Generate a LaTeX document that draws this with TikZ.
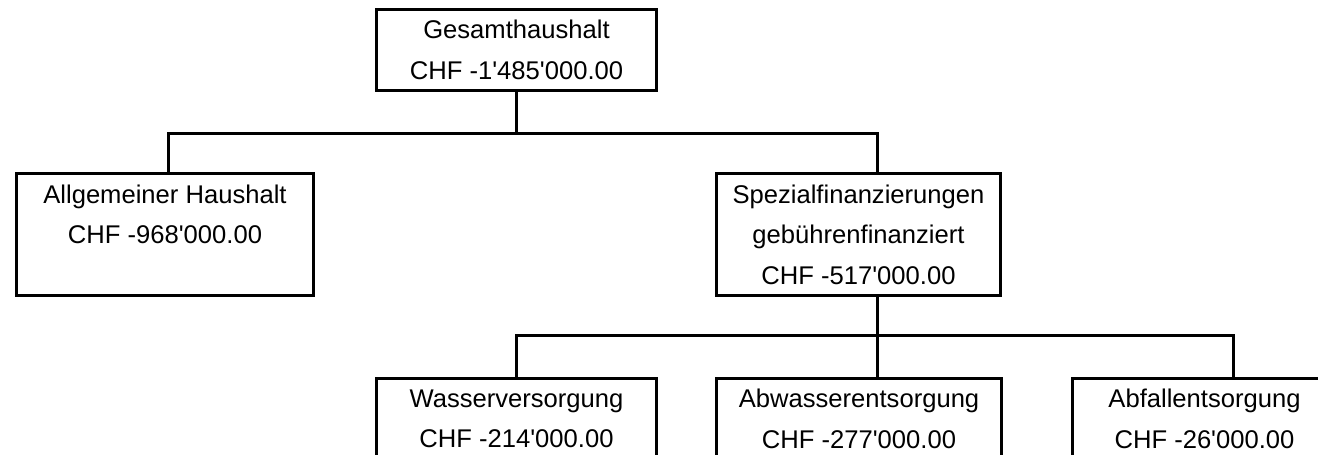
\documentclass[tikz,border=0pt]{standalone}
\usepackage{fontspec}
\setmainfont{Liberation Sans}[Ligatures=TeXOff]

\begin{document}
\begin{tikzpicture}[x=0.75pt, y=-0.75pt,
	box/.style={draw, line width=2.25pt, align=center, inner sep=0pt,
		font=\fontsize{19.2pt}{30.4pt}\selectfont},
	link/.style={line width=2.25pt}]
\useasboundingbox (0,0) rectangle (1318,454);
\clip (0,0) rectangle (1318,454);
\node[box, minimum width=210pt, minimum height=60.75pt] (ges) at (516.5, 50) {Gesamthaushalt\\CHF -1'485'000.00}; % Gesamt 
\node[box, minimum width=222.75pt, minimum height=91.5pt] (allg) at (165, 234.5) {Allgemeiner Haushalt\\CHF -968'000.00\\\mbox{}}; % Allgemein 
\node[box, minimum width=213pt, minimum height=91.5pt] (spez) at (858.5, 234.5) {Spezialfinanzierungen\\geb\"uhrenfinanziert\\CHF -517'000.00}; % Spezial 
\node[box, minimum width=210pt, minimum height=60.75pt] (wass) at (516.5, 419) {Wasserversorgung\\CHF -214'000.00}; % Wasser 
\node[box, minimum width=213.75pt, minimum height=60.75pt] (abw) at (859, 419) {Abwasserentsorgung\\CHF -277'000.00}; % Abwasser 
\node[box, minimum width=198pt, minimum height=60.75pt] (abf) at (1204.5, 419) {Abfallentsorgung\\CHF -26'000.00}; % Abfall 
\coordinate (allg-in) at (168.5, 173.5);
\coordinate (spez-in) at (877.5, 173.5);
\coordinate (spez-out) at (877.5, 295.5);
\coordinate (abw-in) at (877.5, 378.5);
\coordinate (abf-in) at (1233.5, 378.5);
\draw[link] (ges.south) -- ++(0,41) -| (allg-in); % ges-allg 
\draw[link] (ges.south) -- ++(0,41) -| (spez-in); % ges-spez 
\draw[link] (spez-out) -- ++(0,40) -| (wass.north); % spez-wass 
\draw[link] (spez-out) -- (abw-in); % spez-abw 
\draw[link] (spez-out) -- ++(0,40) -| (abf-in); % spez-abf 
\end{tikzpicture}
\end{document}
